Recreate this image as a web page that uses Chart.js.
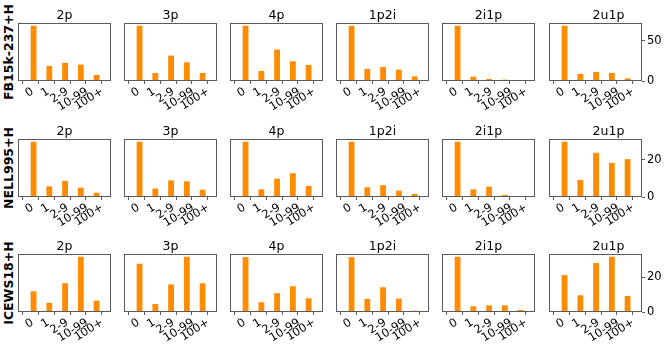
<!DOCTYPE html>
<html>
<head>
<meta charset="utf-8">
<script src="https://cdn.jsdelivr.net/npm/chart.js@4.4.0/dist/chart.umd.min.js"></script>
<style>
  body { margin: 0; background: #fff; }
  #wrap { position: relative; width: 664px; height: 347px; overflow: hidden; }
  canvas { position: absolute; }
  .rowlab {
    position: absolute;
    font: bold 12.5px "DejaVu Sans";
    white-space: nowrap;
    transform: translate(-50%, -50%) rotate(-90deg);
  }
</style>
</head>
<body>
<div id="wrap"></div>
<script>
// categories / panels
var categories = ["0", "1", "2-9", "10-99", "100+"];
var queryTypes = ["2p", "3p", "4p", "1p2i", "2i1p", "2u1p"];
var datasetNames = ["FB15k-237+H", "NELL995+H", "ICEWS18+H"];

// values per query type (same order as queryTypes)
var fb15kValues = [
  [68.8, 18.8, 22.5, 20.4, 7.5],
  [68.8, 10.0, 31.7, 23.3, 10.0],
  [68.8, 12.5, 39.2, 24.6, 20.0],
  [68.8, 15.0, 17.5, 14.2, 5.8],
  [68.8, 5.4, 2.5, 1.7, 0.8],
  [68.8, 8.8, 11.3, 10.0, 3.3]
];
var nellValues = [
  [29.5, 5.7, 8.6, 5.0, 2.3],
  [29.5, 4.5, 8.9, 8.4, 3.9],
  [29.5, 4.1, 9.8, 12.7, 5.9],
  [29.5, 5.2, 6.3, 3.4, 1.6],
  [29.5, 4.1, 5.5, 1.1, 0],
  [29.5, 9.1, 23.6, 18.2, 20.2]
];
var icewsValues = [
  [11.9, 5.2, 16.5, 31.7, 6.5],
  [27.7, 4.6, 15.8, 31.7, 16.5],
  [31.5, 5.6, 10.8, 14.8, 7.9],
  [31.5, 7.5, 14.2, 7.7, 0.8],
  [31.7, 3.3, 3.8, 3.8, 1.2],
  [21.2, 9.6, 28.1, 31.7, 9.2]
];
var allValues = [fb15kValues, nellValues, icewsValues];

// y tick labels (shown on the right of the last column)
var fb15kTicks = [0, 50];
var nellTicks = [0, 20];
var icewsTicks = [0, 20];
var allTicks = [fb15kTicks, nellTicks, icewsTicks];

var barWidth = 0.37;
var xMin = -0.213, xMax = 4.508;
var frameW = 93, frameH = 58;
var frameTops = [23, 139, 254];
var padL = 14, titleH = 18, axisH = 40;
var tickFont = '11.5px "DejaVu Sans"';

// box around each plot area + rotated category labels
var framePlugin = {
  id: "frame",
  afterDraw: function (chart) {
    var a = chart.chartArea, ctx = chart.ctx;
    ctx.save();
    ctx.strokeStyle = "#5a5a5a";
    ctx.lineWidth = 1;
    ctx.strokeRect(Math.round(a.left) + 0.5, Math.round(a.top) + 0.5,
      Math.round(a.right - a.left) - 1, Math.round(a.bottom - a.top) - 1);

    var xs = chart.scales.x;
    var ang = 32 * Math.PI / 180;
    ctx.font = tickFont;
    ctx.fillStyle = "#000";
    ctx.textAlign = "center";
    ctx.textBaseline = "middle";
    categories.forEach(function (cat, i) {
      var L = ctx.measureText(cat).width;
      var h = 8.4;
      var halfH = (L * Math.sin(ang) + h * Math.cos(ang)) / 2;
      var cx = xs.getPixelForValue(i) - 0.15 * L;
      var cy = a.bottom + 6 + halfH;
      ctx.save();
      ctx.translate(cx, cy);
      ctx.rotate(-ang);
      ctx.fillText(cat, 0, 0);
      ctx.restore();
    });
    ctx.restore();
  }
};

var wrap = document.getElementById("wrap");

datasetNames.forEach(function (name, r) {
  var rowMax = Math.max.apply(null, allValues[r].map(function (v) { return Math.max.apply(null, v); }));

  var lab = document.createElement("div");
  lab.className = "rowlab";
  lab.textContent = name;
  lab.style.left = "8px";
  lab.style.top = (frameTops[r] + frameH / 2) + "px";
  wrap.appendChild(lab);

  queryTypes.forEach(function (qt, c) {
    var last = c === queryTypes.length - 1;
    var frameL = Math.round(18 + c * 106.1);
    var padR = last ? 0 : 6;
    var yW = last ? 26 : 0;
    var cv = document.createElement("canvas");
    cv.width = padL + frameW + padR + yW;
    cv.height = titleH + frameH + axisH;
    cv.style.left = (frameL - padL) + "px";
    cv.style.top = (frameTops[r] - titleH) + "px";
    wrap.appendChild(cv);

    var vals = allValues[r][c];
    new Chart(cv, {
      type: "bar",
      data: {
        datasets: [{
          data: vals.map(function (v, i) { return { x: i + barWidth / 2, y: v }; }),
          backgroundColor: "#ff8c00",
          borderWidth: 0,
          categoryPercentage: barWidth,
          barPercentage: 1
        }]
      },
      options: {
        animation: false,
        responsive: false,
        events: [],
        layout: { padding: { left: padL, right: padR, top: 0, bottom: 0 }, autoPadding: false },
        plugins: {
          legend: { display: false },
          tooltip: { enabled: false },
          title: {
            display: true,
            text: qt,
            color: "#000",
            font: { family: "DejaVu Sans", size: 12.5, weight: "normal" },
            padding: { top: 3, bottom: 0 }
          }
        },
        scales: {
          x: {
            type: "linear",
            min: xMin,
            max: xMax,
            afterBuildTicks: function (s) {
              s.ticks = categories.map(function (cat, i) { return { value: i }; });
            },
            afterFit: function (s) { s.height = axisH; },
            ticks: { display: false },
            grid: { drawOnChartArea: false, tickLength: 3, color: "#5a5a5a" },
            border: { display: false }
          },
          y: {
            display: last,
            position: "right",
            min: 0,
            max: rowMax * 1.05,
            afterBuildTicks: function (s) {
              s.ticks = allTicks[r].map(function (t) { return { value: t }; });
            },
            afterFit: function (s) { s.width = yW; },
            ticks: {
              padding: 2,
              color: "#000",
              font: { family: "DejaVu Sans", size: 11.5 }
            },
            grid: { drawOnChartArea: false, tickLength: 3, color: "#5a5a5a" },
            border: { display: false }
          }
        }
      },
      plugins: [framePlugin]
    });
  });
});
</script>
</body>
</html>
